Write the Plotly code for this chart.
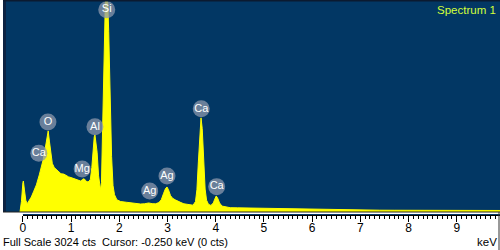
import plotly.graph_objects as go

# Spectrum (energy keV, counts)
energy = [-0.06, -0.03, 0.0, 0.01, 0.03, 0.06, 0.09, 0.13, 0.175, 0.22, 0.28, 0.34, 0.38, 0.42,
          0.46, 0.49, 0.525, 0.55, 0.57, 0.61, 0.65, 0.69, 0.74, 0.79, 0.85, 0.90, 0.95, 1.00,
          1.05, 1.10, 1.15, 1.20, 1.24, 1.27, 1.30, 1.33, 1.37, 1.40, 1.43, 1.46, 1.48, 1.495,
          1.52, 1.54, 1.57, 1.59, 1.61, 1.63, 1.66, 1.69, 1.71, 1.73, 1.745, 1.76, 1.78, 1.81,
          1.84, 1.87, 1.90, 1.95, 2.03, 2.15, 2.25, 2.35, 2.44, 2.52, 2.61, 2.68, 2.75, 2.82,
          2.87, 2.92, 2.96, 2.99, 3.02, 3.06, 3.10, 3.16, 3.22, 3.28, 3.34, 3.40, 3.47, 3.53,
          3.58, 3.61, 3.64, 3.67, 3.695, 3.72, 3.75, 3.78, 3.81, 3.85, 3.90, 3.95, 3.98, 4.01,
          4.04, 4.08, 4.13, 4.20, 4.30, 4.45, 4.60, 4.75, 4.90, 5.10, 5.30, 5.50, 5.70, 5.90,
          6.10, 6.30, 6.45, 6.55, 6.80, 7.10, 7.40, 7.70, 8.00, 8.40, 8.80, 9.20, 9.60, 9.90]
counts = [0, 150, 420, 446, 330, 170, 120, 160, 216, 290, 390, 533, 640, 750,
          900, 1040, 1166, 1020, 893, 700, 640, 610, 580, 550, 545, 520, 505, 495,
          480, 470, 455, 445, 470, 478, 455, 432, 440, 470, 640, 950, 1080, 1109,
          1000, 860, 520, 380, 320, 420, 1400, 2700, 3024, 3024, 3024, 3024, 2600, 1600,
          800, 380, 250, 175, 150, 140, 128, 125, 115, 118, 130, 120, 118, 135,
          175, 270, 340, 360, 320, 240, 200, 175, 150, 135, 118, 110, 102, 98,
          150, 320, 720, 1150, 1354, 1200, 700, 330, 170, 110, 95, 130, 185, 230,
          200, 130, 85, 72, 62, 60, 58, 56, 52, 48, 45, 44, 43, 42,
          41, 40, 38, 28, 27, 26, 26, 25, 25, 24, 24, 23, 23, 22]

# Peak labels (element, energy keV, label height counts)
lbl_text = ["Si", "O", "Ca", "Al", "Mg", "Ag", "Ag", "Ca", "Ca"]
lbl_energy = [1.74, 0.52, 0.33, 1.495, 1.23, 2.63, 2.99, 3.70, 4.02]
lbl_counts = [2910, 1295, 845, 1225, 620, 302, 518, 1485, 365]

tick_vals = [0, 1, 2, 3, 4, 5, 6, 7, 8, 9]

BG = "#023764"
YEL = "#ffff00"
FONT = "Liberation Sans, Arial, sans-serif"

fig = go.Figure()
fig.add_trace(go.Scatter(
    x=energy, y=counts, mode="lines", fill="tozeroy",
    line=dict(color=YEL, width=1), fillcolor=YEL, hoverinfo="skip", showlegend=False,
))
fig.add_trace(go.Scatter(
    x=lbl_energy, y=lbl_counts, mode="markers+text", text=lbl_text,
    textposition="middle center",
    textfont=dict(family=FONT, size=11, color="white"),
    marker=dict(symbol="circle", size=17, color="rgba(140,152,172,0.75)", line=dict(width=0)),
    hoverinfo="skip", showlegend=False,
))

x0_px, scale = 20.0, 48.5
xr = [(0 - x0_px) / scale, (500 - x0_px) / scale]

# ruler axis trace (invisible) to drive the lower axis
fig.add_trace(go.Scatter(x=[0, xr[1]], y=[0, 0], xaxis="x2", yaxis="y2",
                         mode="lines", line=dict(width=0), hoverinfo="skip", showlegend=False))

fig.update_layout(
    width=500, height=250,
    margin=dict(l=0, r=0, t=0, b=0),
    paper_bgcolor="white", plot_bgcolor=BG,
    xaxis=dict(domain=[0, 1], range=xr, visible=False, fixedrange=True),
    yaxis=dict(domain=[38 / 250, 1], range=[0, 3050], visible=False, fixedrange=True),
    xaxis2=dict(domain=[x0_px / 500, 1], range=[0, xr[1]], anchor="y2",
                tickvals=tick_vals, ticks="outside", ticklen=6, tickcolor="black", tickwidth=1,
                ticklabelstandoff=-4,
                showline=True, linecolor="black", linewidth=1, showgrid=False, zeroline=False,
                minor=dict(dtick=0.1, ticks="outside", ticklen=3, tickcolor="black", showgrid=False),
                tickfont=dict(family=FONT, size=12, color="black"),
                fixedrange=True),
    yaxis2=dict(domain=[1 - 215 / 250, 1 - 214 / 250], range=[0, 1], visible=False, fixedrange=True),
    showlegend=False,
    font=dict(family=FONT),
    annotations=[
        dict(x=1, y=1, xref="paper", yref="paper", xanchor="right", yanchor="top",
             xshift=-2, yshift=-2, text="Spectrum 1", showarrow=False,
             font=dict(size=11.5, color="#d4ff3a")),
        dict(x=0, y=0, xref="paper", yref="paper", xanchor="left", yanchor="bottom",
             yshift=0, xshift=-2, text="Full Scale 3024 cts  Cursor: -0.250 keV (0 cts)", showarrow=False,
             font=dict(size=11, color="black")),
        dict(x=1, y=0, xref="paper", yref="paper", xanchor="right", yanchor="bottom",
             xshift=-1, yshift=0, text="keV", showarrow=False,
             font=dict(size=11.5, color="black")),
    ],
    shapes=[
        dict(type="rect", xref="paper", yref="paper", x0=0, x1=3 / 500, y0=38 / 250, y1=1,
             fillcolor="#0b2242", line=dict(width=0), layer="above"),
        dict(type="rect", xref="paper", yref="paper", x0=0, x1=1, y0=1 - 1.5 / 250, y1=1,
             fillcolor="#0b1a30", line=dict(width=0), layer="above"),
        dict(type="line", xref="paper", yref="paper", x0=0, x1=1, y0=38 / 250, y1=38 / 250,
             line=dict(color="#222222", width=1), layer="above"),
        dict(type="line", xref="paper", yref="paper", x0=1 - 1 / 500, x1=1 - 1 / 500, y0=0, y1=38 / 250,
             line=dict(color="#333333", width=1), layer="above"),
    ],
)

fig.write_html("out.html")
